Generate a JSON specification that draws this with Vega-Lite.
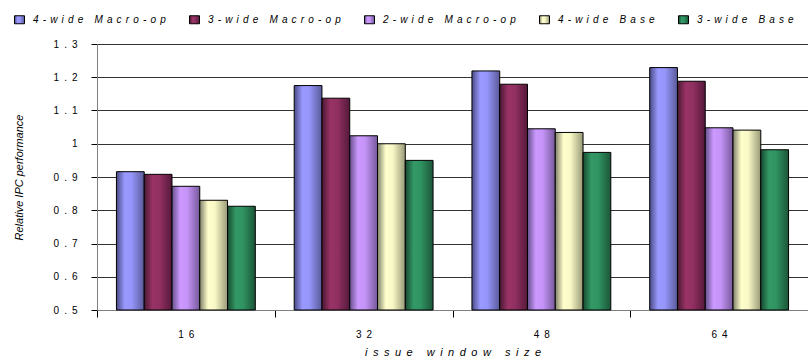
{
  "$schema": "https://vega.github.io/schema/vega-lite/v6.json",
  "width": 711,
  "height": 266,
  "autosize": {"type": "none"},
  "padding": {"left": 97, "top": 44, "right": 0, "bottom": 50},
  "background": "white",
  "config": {"view": {"stroke": null}, "font": "Liberation Sans"},
  "data": {
    "values": [
      {"window": "16", "config": "4-wide Macro-op", "ipc": 0.916},
      {"window": "16", "config": "3-wide Macro-op", "ipc": 0.908},
      {"window": "16", "config": "2-wide Macro-op", "ipc": 0.872},
      {"window": "16", "config": "4-wide Base", "ipc": 0.830},
      {"window": "16", "config": "3-wide Base", "ipc": 0.812},
      {"window": "32", "config": "4-wide Macro-op", "ipc": 1.175},
      {"window": "32", "config": "3-wide Macro-op", "ipc": 1.137},
      {"window": "32", "config": "2-wide Macro-op", "ipc": 1.024},
      {"window": "32", "config": "4-wide Base", "ipc": 1.000},
      {"window": "32", "config": "3-wide Base", "ipc": 0.950},
      {"window": "48", "config": "4-wide Macro-op", "ipc": 1.219},
      {"window": "48", "config": "3-wide Macro-op", "ipc": 1.179},
      {"window": "48", "config": "2-wide Macro-op", "ipc": 1.045},
      {"window": "48", "config": "4-wide Base", "ipc": 1.034},
      {"window": "48", "config": "3-wide Base", "ipc": 0.974},
      {"window": "64", "config": "4-wide Macro-op", "ipc": 1.229},
      {"window": "64", "config": "3-wide Macro-op", "ipc": 1.188},
      {"window": "64", "config": "2-wide Macro-op", "ipc": 1.048},
      {"window": "64", "config": "4-wide Base", "ipc": 1.041},
      {"window": "64", "config": "3-wide Base", "ipc": 0.982}
    ]
  },
  "mark": {"type": "bar", "stroke": "#000", "strokeWidth": 1},
  "encoding": {
    "x": {
      "field": "window",
      "type": "nominal",
      "scale": {"paddingInner": 0, "paddingOuter": 0},
      "axis": {
        "title": "i\u2002s\u2002s\u2002u\u2002e\u2002 \u2002w\u2002i\u2002n\u2002d\u2002o\u2002w\u2002 \u2002s\u2002i\u2002z\u2002e",
        "titleFontStyle": "italic",
        "titleFontWeight": "normal",
        "titleFontSize": 11,
        "titleColor": "#000",
        "titleY": 42,
        "titleBaseline": "middle",
        "labelAngle": 0,
        "labelFontSize": 10,
        "labelColor": "#000",
        "labelPadding": 12,
        "labelExpr": "join(split(datum.label,''),'\u2002')",
        "tickBand": "extent",
        "tickSize": 7,
        "tickColor": "#000",
        "domainColor": "#808080"
      }
    },
    "xOffset": {
      "field": "config",
      "type": "nominal",
      "sort": ["4-wide Macro-op", "3-wide Macro-op", "2-wide Macro-op", "4-wide Base", "3-wide Base"],
      "scale": {"paddingInner": 0, "paddingOuter": 0.7}
    },
    "y": {
      "field": "ipc",
      "type": "quantitative",
      "scale": {"domain": [0.5, 1.3], "nice": false, "zero": false},
      "axis": {
        "title": "Relative IPC performance",
        "titleFontStyle": "italic",
        "titleFontWeight": "normal",
        "titleFontSize": 11,
        "titleColor": "#000",
        "titleX": -78,
        "titleY": 133,
        "titleBaseline": "middle",
        "values": [0.5, 0.6, 0.7, 0.8, 0.9, 1.0, 1.1, 1.2, 1.3],
        "labelExpr": "join(split(format(datum.value,'.1~f'),''),'\u2002')",
        "labelFontSize": 10,
        "labelColor": "#000",
        "labelPadding": 14,
        "tickSize": 6,
        "tickColor": "#000",
        "grid": true,
        "gridColor": "#333",
        "domainColor": "#808080"
      }
    },
    "y2": {"datum": 0.5},
    "color": {
      "field": "config",
      "type": "nominal",
      "scale": {
        "domain": ["4-wide Macro-op", "3-wide Macro-op", "2-wide Macro-op", "4-wide Base", "3-wide Base"],
        "range": [
          {"expr": "{gradient:'linear',x1:0,y1:0,x2:1,y2:0,stops:[{offset:0,color:'#4a4a85'},{offset:0.3,color:'#9999ff'},{offset:0.55,color:'#9595fa'},{offset:1,color:'#5a5a99'}]}"},
          {"expr": "{gradient:'linear',x1:0,y1:0,x2:1,y2:0,stops:[{offset:0,color:'#4a1832'},{offset:0.3,color:'#993366'},{offset:0.55,color:'#923062'},{offset:1,color:'#55193a'}]}"},
          {"expr": "{gradient:'linear',x1:0,y1:0,x2:1,y2:0,stops:[{offset:0,color:'#66508a'},{offset:0.3,color:'#cc99ff'},{offset:0.55,color:'#c594f8'},{offset:1,color:'#76599a'}]}"},
          {"expr": "{gradient:'linear',x1:0,y1:0,x2:1,y2:0,stops:[{offset:0,color:'#80806a'},{offset:0.3,color:'#ffffcc'},{offset:0.55,color:'#f8f8c6'},{offset:1,color:'#999978'}]}"},
          {"expr": "{gradient:'linear',x1:0,y1:0,x2:1,y2:0,stops:[{offset:0,color:'#184a30'},{offset:0.3,color:'#339966'},{offset:0.55,color:'#309462'},{offset:1,color:'#1b5538'}]}"}
        ]
      },
      "legend": {
        "orient": "none",
        "legendX": -83,
        "legendY": -30,
        "direction": "horizontal",
        "columns": 5,
        "title": null,
        "padding": 0,
        "symbolType": "M-1,-0.8H1V0.8H-1Z",
        "symbolSize": 100,
        "symbolStrokeColor": "#000",
        "symbolStrokeWidth": 1,
        "labelFontSize": 10,
        "labelFontStyle": "italic",
        "labelColor": "#000",
        "labelOffset": 8,
        "columnPadding": 21,
        "labelExpr": "join(split(datum.label,''),'\u2005\u2006')"
      }
    }
  }
}
